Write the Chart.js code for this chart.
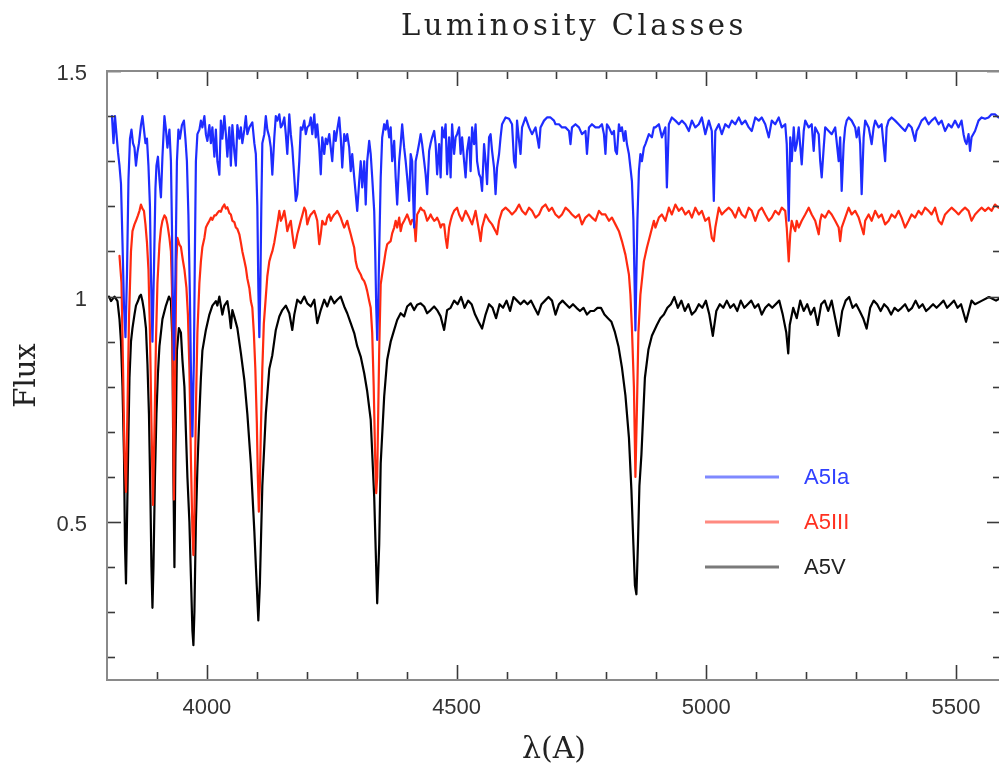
<!DOCTYPE html>
<html>
<head>
<meta charset="utf-8">
<script src="https://cdn.jsdelivr.net/npm/chart.js@4.4.1/dist/chart.umd.min.js"></script>
<style>
  html, body { margin: 0; padding: 0; background: #fff; overflow: hidden; }
  #wrap { position: absolute; left: 0; top: 0; width: 1004px; height: 769px; }
</style>
</head>
<body>
<div id="wrap"><canvas id="c"></canvas></div>
<script>
// ---------------- DATA ----------------
const chartTitle = 'Luminosity Classes';
const xAxisTitle = 'λ(A)';
const yAxisTitle = 'Flux';
const seriesNames = ['A5Ia', 'A5III', 'A5V'];
const xTickValues = [4000, 4500, 5000, 5500];
const yTickValues = [0.5, 1, 1.5];

// A5Ia (supergiant)
const iaWave = [3810,3813,3816,3819,3822,3825,3828,3831,3834,3837,3840,3843,3846,3849,3852,3855,3858,3861,3864,3868,3871,3874,3877,3880,3883,3886,3888,3891,3894,3897,3899,3902,3905,3908,3911,3915,3918,3921,3925,3928,3930,3932,3934,3937,3940,3943,3946,3950,3954,3957,3960,3963,3966,3968,3971,3974,3976,3978,3981,3985,3988,3991,3995,3998,4001,4005,4008,4011,4015,4018,4021,4025,4028,4031,4035,4038,4041,4045,4048,4051,4055,4058,4061,4065,4068,4071,4075,4078,4081,4085,4091,4095,4098,4101,4103,4105,4107,4109,4111,4115,4118,4121,4125,4128,4131,4135,4138,4141,4145,4148,4151,4155,4158,4161,4165,4168,4171,4175,4178,4181,4185,4188,4191,4195,4198,4201,4205,4208,4211,4215,4218,4221,4225,4228,4231,4235,4238,4241,4245,4248,4251,4255,4258,4261,4265,4268,4271,4275,4278,4281,4285,4288,4291,4295,4298,4301,4305,4308,4311,4315,4318,4321,4325,4328,4331,4335,4337,4339,4341,4343,4345,4348,4351,4355,4358,4361,4365,4368,4371,4375,4378,4381,4385,4388,4391,4395,4398,4401,4405,4408,4411,4413,4415,4418,4421,4425,4428,4431,4435,4438,4441,4445,4448,4451,4455,4458,4461,4465,4468,4471,4475,4478,4481,4485,4488,4491,4495,4498,4501,4505,4508,4511,4515,4518,4521,4525,4528,4531,4535,4538,4541,4545,4548,4551,4555,4558,4561,4565,4568,4571,4575,4578,4581,4585,4588,4591,4598,4605,4611,4615,4618,4621,4625,4628,4631,4638,4645,4651,4658,4665,4668,4675,4681,4688,4695,4698,4705,4711,4718,4725,4728,4731,4738,4745,4751,4758,4761,4765,4771,4778,4785,4791,4795,4798,4801,4805,4811,4815,4818,4821,4825,4828,4831,4835,4838,4841,4845,4848,4851,4854,4856,4858,4860,4862,4865,4868,4871,4875,4878,4885,4891,4895,4898,4905,4911,4918,4921,4925,4931,4938,4945,4951,4958,4965,4971,4978,4985,4991,4998,5005,5011,5015,5018,5025,5031,5038,5045,5051,5058,5065,5071,5078,5085,5091,5098,5105,5111,5118,5125,5131,5138,5145,5151,5158,5161,5165,5168,5171,5175,5178,5181,5185,5191,5195,5198,5205,5211,5215,5218,5225,5228,5231,5235,5238,5245,5251,5258,5265,5268,5271,5275,5278,5281,5285,5291,5298,5301,5305,5308,5311,5315,5318,5325,5331,5335,5338,5345,5351,5358,5361,5365,5371,5378,5385,5391,5398,5405,5411,5418,5421,5425,5431,5438,5445,5451,5458,5465,5471,5478,5485,5491,5498,5505,5511,5515,5518,5521,5525,5528,5531,5538,5545,5551,5558,5565,5571,5578,5585,5592];
const iaFlux = [1.40,1.34,1.40,1.36,1.32,1.29,1.25,1.12,0.98,0.91,1.05,1.26,1.35,1.37,1.34,1.33,1.29,1.32,1.34,1.38,1.40,1.37,1.34,1.35,1.29,1.20,1.05,0.90,1.06,1.24,1.29,1.31,1.26,1.22,1.31,1.40,1.37,1.33,1.37,1.30,1.16,0.98,0.86,1.05,1.30,1.37,1.35,1.38,1.39,1.35,1.30,1.18,1.00,0.84,0.69,0.86,1.10,1.30,1.36,1.37,1.39,1.375,1.40,1.36,1.345,1.38,1.34,1.375,1.31,1.37,1.30,1.27,1.39,1.35,1.40,1.36,1.31,1.375,1.29,1.38,1.32,1.29,1.38,1.35,1.375,1.34,1.37,1.40,1.36,1.375,1.386,1.34,1.316,1.20,1.02,0.91,1.02,1.20,1.34,1.36,1.40,1.37,1.353,1.33,1.27,1.353,1.40,1.39,1.404,1.375,1.38,1.397,1.36,1.316,1.404,1.36,1.33,1.264,1.212,1.227,1.30,1.375,1.37,1.39,1.36,1.375,1.38,1.397,1.36,1.404,1.353,1.382,1.33,1.271,1.353,1.316,1.35,1.338,1.36,1.33,1.30,1.367,1.345,1.37,1.397,1.353,1.286,1.36,1.345,1.36,1.33,1.278,1.316,1.264,1.227,1.19,1.256,1.30,1.242,1.30,1.204,1.30,1.345,1.316,1.264,1.19,1.10,0.98,0.904,0.98,1.10,1.264,1.353,1.382,1.37,1.39,1.353,1.375,1.30,1.345,1.264,1.204,1.30,1.338,1.382,1.33,1.30,1.264,1.212,1.316,1.30,1.22,1.153,1.30,1.316,1.34,1.36,1.338,1.30,1.271,1.227,1.323,1.34,1.353,1.367,1.338,1.271,1.338,1.264,1.375,1.353,1.382,1.271,1.353,1.264,1.382,1.316,1.353,1.36,1.375,1.316,1.353,1.30,1.264,1.323,1.353,1.278,1.375,1.338,1.382,1.30,1.271,1.264,1.234,1.338,1.30,1.249,1.353,1.36,1.323,1.286,1.227,1.286,1.316,1.353,1.382,1.397,1.394,1.382,1.30,1.286,1.39,1.345,1.316,1.375,1.397,1.375,1.36,1.375,1.33,1.375,1.39,1.397,1.397,1.39,1.382,1.382,1.375,1.375,1.367,1.338,1.375,1.382,1.375,1.36,1.367,1.316,1.375,1.382,1.375,1.375,1.382,1.36,1.316,1.382,1.375,1.36,1.367,1.323,1.316,1.382,1.367,1.375,1.345,1.367,1.338,1.316,1.286,1.256,1.17,1.05,0.925,1.05,1.17,1.278,1.316,1.30,1.33,1.338,1.36,1.353,1.375,1.375,1.382,1.353,1.375,1.242,1.382,1.397,1.39,1.382,1.39,1.382,1.367,1.39,1.375,1.382,1.397,1.36,1.39,1.367,1.212,1.367,1.382,1.36,1.382,1.375,1.39,1.382,1.397,1.382,1.39,1.375,1.367,1.397,1.39,1.397,1.382,1.353,1.39,1.382,1.397,1.375,1.382,1.338,1.168,1.353,1.30,1.375,1.323,1.338,1.375,1.293,1.367,1.39,1.375,1.382,1.323,1.375,1.36,1.30,1.264,1.33,1.375,1.367,1.36,1.375,1.30,1.353,1.234,1.338,1.375,1.39,1.397,1.39,1.375,1.353,1.375,1.338,1.227,1.353,1.39,1.375,1.338,1.375,1.39,1.375,1.382,1.30,1.375,1.39,1.397,1.39,1.382,1.375,1.367,1.382,1.375,1.345,1.367,1.375,1.39,1.397,1.382,1.39,1.397,1.382,1.39,1.367,1.382,1.375,1.39,1.375,1.39,1.36,1.345,1.338,1.36,1.323,1.353,1.367,1.39,1.397,1.394,1.397,1.404,1.404,1.397,1.40];

// A5III (giant)
const iiiWave = [3825,3829,3832,3835,3838,3841,3844,3848,3851,3855,3858,3862,3865,3868,3871,3874,3877,3880,3883,3886,3889,3892,3895,3898,3901,3905,3908,3911,3915,3918,3921,3925,3928,3930,3932,3934,3936,3939,3941,3945,3948,3952,3955,3959,3962,3965,3968,3971,3973,3975,3978,3981,3985,3988,3991,3995,3998,4001,4005,4008,4011,4015,4018,4021,4025,4028,4031,4035,4038,4041,4045,4048,4051,4055,4058,4061,4065,4068,4071,4075,4078,4081,4085,4088,4091,4094,4097,4100,4102,4104,4106,4108,4111,4114,4118,4121,4125,4128,4131,4135,4138,4141,4145,4148,4151,4155,4158,4161,4165,4168,4171,4175,4178,4181,4185,4188,4191,4195,4198,4201,4205,4208,4211,4215,4218,4221,4225,4228,4231,4235,4238,4241,4245,4248,4251,4255,4258,4261,4265,4268,4271,4275,4278,4281,4285,4288,4291,4295,4298,4301,4305,4308,4311,4315,4318,4321,4325,4328,4331,4334,4337,4339,4341,4343,4345,4348,4351,4355,4358,4361,4365,4368,4371,4375,4378,4381,4385,4388,4391,4395,4398,4401,4405,4408,4411,4415,4418,4421,4425,4428,4431,4435,4438,4441,4445,4448,4451,4455,4458,4461,4465,4468,4471,4475,4478,4481,4485,4488,4491,4495,4501,4505,4511,4518,4525,4531,4538,4545,4548,4551,4558,4565,4571,4578,4581,4585,4591,4598,4605,4611,4618,4625,4631,4638,4645,4651,4658,4665,4671,4678,4685,4691,4698,4705,4711,4718,4725,4731,4738,4745,4751,4758,4765,4771,4778,4785,4791,4798,4805,4811,4818,4825,4831,4838,4845,4848,4851,4855,4858,4861,4864,4868,4875,4881,4888,4895,4898,4905,4911,4918,4925,4931,4938,4945,4951,4958,4965,4971,4978,4985,4991,4998,5005,5011,5015,5018,5025,5031,5038,5045,5051,5058,5065,5071,5078,5085,5091,5098,5105,5111,5118,5125,5131,5138,5145,5151,5158,5161,5165,5168,5171,5175,5178,5181,5185,5191,5198,5205,5211,5218,5225,5228,5231,5238,5245,5251,5258,5265,5268,5271,5278,5285,5291,5298,5305,5311,5315,5318,5325,5331,5338,5345,5351,5358,5365,5371,5378,5385,5391,5398,5405,5411,5418,5425,5431,5438,5445,5451,5458,5465,5471,5478,5485,5491,5498,5505,5511,5518,5525,5531,5538,5545,5551,5558,5565,5571,5578,5585,5592];
const iiiFlux = [1.09,1.03,0.85,0.65,0.567,0.75,0.95,1.10,1.145,1.16,1.168,1.18,1.19,1.204,1.195,1.19,1.16,1.12,1.06,0.92,0.72,0.538,0.70,0.90,1.03,1.116,1.15,1.168,1.18,1.175,1.16,1.13,1.10,1.02,0.80,0.55,0.80,1.08,1.13,1.115,1.11,1.08,1.06,1.02,0.96,0.84,0.64,0.48,0.427,0.52,0.75,0.92,1.03,1.078,1.11,1.13,1.153,1.16,1.168,1.175,1.17,1.18,1.18,1.185,1.19,1.188,1.197,1.204,1.195,1.198,1.185,1.182,1.168,1.165,1.153,1.15,1.138,1.12,1.10,1.08,1.064,1.04,1.019,0.99,0.975,0.92,0.84,0.72,0.60,0.523,0.58,0.70,0.84,0.94,1.00,1.045,1.078,1.09,1.10,1.12,1.14,1.16,1.19,1.168,1.175,1.19,1.17,1.145,1.16,1.168,1.14,1.108,1.12,1.138,1.155,1.168,1.18,1.197,1.19,1.16,1.175,1.182,1.185,1.19,1.18,1.168,1.116,1.138,1.168,1.16,1.16,1.175,1.182,1.168,1.175,1.182,1.185,1.19,1.182,1.175,1.165,1.153,1.16,1.168,1.15,1.138,1.125,1.108,1.078,1.064,1.055,1.049,1.04,1.034,1.025,1.012,0.99,0.975,0.92,0.80,0.64,0.564,0.60,0.74,0.88,1.027,1.05,1.078,1.10,1.116,1.12,1.123,1.14,1.153,1.168,1.153,1.175,1.145,1.16,1.168,1.175,1.182,1.17,1.16,1.17,1.168,1.123,1.182,1.19,1.197,1.192,1.19,1.18,1.168,1.175,1.182,1.175,1.168,1.17,1.175,1.165,1.153,1.16,1.16,1.13,1.108,1.153,1.168,1.18,1.19,1.197,1.182,1.168,1.19,1.175,1.16,1.19,1.145,1.123,1.153,1.182,1.168,1.16,1.145,1.138,1.168,1.19,1.197,1.19,1.182,1.19,1.204,1.19,1.182,1.197,1.19,1.175,1.182,1.197,1.204,1.19,1.197,1.182,1.175,1.182,1.197,1.19,1.182,1.175,1.182,1.16,1.175,1.182,1.175,1.168,1.19,1.182,1.182,1.168,1.175,1.16,1.145,1.123,1.093,1.049,1.004,0.93,0.80,0.60,0.75,0.92,1.004,1.078,1.108,1.138,1.168,1.153,1.175,1.182,1.168,1.197,1.182,1.204,1.19,1.197,1.182,1.19,1.175,1.197,1.182,1.19,1.168,1.175,1.13,1.123,1.153,1.197,1.182,1.19,1.197,1.19,1.175,1.197,1.182,1.175,1.197,1.19,1.168,1.19,1.197,1.182,1.168,1.175,1.19,1.182,1.197,1.19,1.153,1.078,1.138,1.168,1.153,1.145,1.168,1.153,1.168,1.182,1.197,1.182,1.168,1.138,1.168,1.182,1.175,1.19,1.182,1.168,1.153,1.123,1.153,1.175,1.197,1.182,1.19,1.175,1.153,1.138,1.168,1.182,1.168,1.19,1.175,1.182,1.16,1.168,1.182,1.175,1.19,1.175,1.153,1.168,1.182,1.175,1.19,1.182,1.197,1.19,1.182,1.197,1.168,1.16,1.182,1.19,1.197,1.19,1.182,1.19,1.197,1.19,1.168,1.182,1.19,1.197,1.19,1.197,1.19,1.204,1.197,1.20];

// A5V (dwarf)
const vWave = [3804,3808,3815,3821,3825,3828,3831,3834,3836,3838,3840,3843,3845,3848,3851,3855,3858,3862,3865,3868,3871,3874,3878,3881,3884,3887,3889,3891,3893,3896,3899,3902,3905,3911,3918,3924,3928,3931,3933,3935,3937,3940,3944,3948,3951,3955,3958,3961,3965,3968,3971,3973,3975,3978,3981,3985,3988,3991,3998,4005,4011,4018,4021,4025,4031,4035,4041,4045,4048,4051,4055,4061,4068,4075,4081,4088,4095,4099,4103,4106,4111,4118,4125,4131,4138,4145,4151,4158,4165,4171,4175,4181,4188,4195,4201,4208,4215,4221,4228,4235,4241,4248,4255,4261,4268,4275,4281,4288,4295,4301,4308,4315,4321,4328,4335,4341,4345,4348,4355,4361,4368,4375,4381,4388,4395,4401,4408,4415,4421,4428,4435,4441,4448,4455,4461,4468,4475,4481,4488,4495,4502,4509,4516,4523,4530,4537,4544,4551,4558,4565,4572,4579,4586,4593,4600,4607,4614,4621,4628,4635,4642,4649,4656,4663,4670,4677,4684,4691,4698,4705,4712,4719,4726,4733,4740,4747,4754,4761,4768,4775,4782,4789,4796,4803,4810,4817,4824,4831,4838,4845,4850,4854,4857,4860,4863,4866,4870,4877,4884,4891,4901,4908,4915,4922,4929,4936,4943,4950,4957,4964,4971,4978,4985,4992,4999,5006,5013,5020,5027,5034,5041,5048,5055,5062,5069,5076,5083,5090,5097,5104,5111,5118,5125,5132,5146,5153,5160,5164,5167,5174,5181,5188,5195,5202,5209,5216,5223,5230,5237,5244,5251,5258,5265,5272,5279,5286,5293,5300,5307,5314,5321,5328,5335,5342,5349,5356,5363,5370,5377,5384,5391,5398,5405,5412,5419,5426,5433,5440,5447,5454,5461,5468,5475,5482,5489,5496,5503,5510,5520,5531,5538,5552,5566,5580,5592];
const vFlux = [1.00,0.99,1.00,0.99,0.95,0.90,0.80,0.65,0.45,0.364,0.50,0.70,0.82,0.90,0.93,0.96,0.98,0.99,1.00,1.004,0.99,0.97,0.93,0.85,0.74,0.55,0.40,0.31,0.40,0.60,0.74,0.83,0.89,0.95,0.98,1.00,0.99,0.90,0.60,0.40,0.65,0.88,0.93,0.92,0.86,0.80,0.70,0.60,0.50,0.38,0.26,0.227,0.30,0.50,0.62,0.74,0.82,0.88,0.926,0.96,0.98,0.99,0.98,1.00,0.96,0.98,0.99,0.96,0.93,0.97,0.955,0.93,0.875,0.815,0.74,0.63,0.48,0.38,0.282,0.36,0.58,0.74,0.84,0.87,0.926,0.956,0.97,0.98,0.963,0.926,0.96,0.993,0.985,1.00,0.985,0.978,0.993,0.941,0.97,0.993,0.978,1.00,0.985,0.993,1.00,0.978,0.963,0.941,0.919,0.89,0.867,0.83,0.79,0.727,0.556,0.32,0.45,0.63,0.779,0.86,0.90,0.926,0.948,0.963,0.956,0.978,0.985,0.97,0.982,0.985,0.978,0.963,0.97,0.978,0.97,0.956,0.926,0.97,0.975,0.991,0.983,0.999,0.975,0.991,0.983,0.96,0.944,0.929,0.96,0.983,0.975,0.952,0.983,0.975,0.991,0.968,0.999,0.991,0.983,0.991,0.983,0.991,0.975,0.96,0.983,0.991,0.999,0.991,0.96,0.983,0.991,0.983,0.975,0.983,0.975,0.968,0.975,0.96,0.968,0.968,0.975,0.975,0.96,0.952,0.944,0.921,0.89,0.843,0.781,0.688,0.571,0.45,0.36,0.34,0.45,0.58,0.649,0.82,0.882,0.913,0.937,0.952,0.96,0.975,0.983,0.999,0.975,0.991,0.968,0.983,0.96,0.968,0.983,0.975,0.991,0.96,0.913,0.968,0.983,0.975,0.991,0.975,0.983,0.968,0.991,0.975,0.983,0.991,0.975,0.983,0.96,0.975,0.983,0.975,0.991,0.96,0.921,0.874,0.937,0.975,0.952,0.991,0.968,0.983,0.96,0.975,0.937,0.983,0.991,0.968,0.991,0.952,0.913,0.968,0.991,0.999,0.975,0.983,0.968,0.952,0.929,0.975,0.991,0.983,0.968,0.983,0.975,0.96,0.975,0.968,0.975,0.983,0.968,0.975,0.991,0.975,0.983,0.968,0.975,0.983,0.975,0.983,0.991,0.975,0.983,0.991,0.975,0.983,0.944,0.991,0.983,0.991,0.999,0.991,0.999];

// ---------------- STYLE ----------------
const lineColors = ['#1e2cff', '#ff2a10', '#000000'];
const legendLineColors = ['#7f89ff', '#ff8a80', '#7a7a7a'];
const legendTextColors = ['#3040ff', '#ff3020', '#222222'];

function toPoints(w, f) { return w.map((x, i) => ({ x: x, y: f[i] })); }

const xMinor = [];
for (let v = 3900; v <= 5500; v += 100) xMinor.push(v);
const yMinor = [];
for (let k = 2; k <= 15; k++) yMinor.push(k / 10);

function line(ctx, x1, y1, x2, y2) { ctx.beginPath(); ctx.moveTo(x1, y1); ctx.lineTo(x2, y2); ctx.stroke(); }

const decorPlugin = {
  id: 'decor',
  afterDatasetsDraw(chart) {
    const { ctx, chartArea: a, scales: { x, y } } = chart;
    ctx.save();
    // inward ticks on all four sides
    ctx.strokeStyle = '#3a3a3a';
    ctx.lineWidth = 1.6;
    xMinor.forEach(v => {
      const px = Math.round(x.getPixelForValue(v)) + 0.5;
      const len = xTickValues.includes(v) ? 15 : 8;
      line(ctx, px, a.bottom, px, a.bottom - len);
      line(ctx, px, a.top, px, a.top + len);
    });
    yMinor.forEach(v => {
      const py = Math.round(y.getPixelForValue(v)) + 0.5;
      const major = yTickValues.some(t => Math.abs(t - v) < 1e-6);
      const len = major ? 14 : 8;
      line(ctx, a.left, py, a.left + len, py);
      line(ctx, a.right, py, a.right - len, py);
    });
    // frame
    ctx.strokeStyle = '#8a8a8a';
    ctx.lineWidth = 2;
    ctx.strokeRect(a.left, a.top, a.right - a.left, a.bottom - a.top);

    // legend (inside the plot)
    const legendY = [477, 522, 567];
    ctx.font = '22px "Liberation Sans", Arial, sans-serif';
    ctx.textBaseline = 'middle';
    ctx.textAlign = 'left';
    seriesNames.forEach((name, i) => {
      ctx.strokeStyle = legendLineColors[i];
      ctx.lineWidth = 3;
      line(ctx, 705, legendY[i], 779, legendY[i]);
      ctx.fillStyle = legendTextColors[i];
      ctx.fillText(name, 804, legendY[i] + 1);
    });

    // title
    ctx.font = '29px "DejaVu Serif", serif';
    ctx.fillStyle = '#222';
    ctx.textAlign = 'left';
    ctx.textBaseline = 'middle';
    try { ctx.letterSpacing = '3.5px'; } catch (e) {}
    const tw = ctx.measureText(chartTitle).width;
    ctx.fillText(chartTitle, 574 - tw / 2, 27);
    try { ctx.letterSpacing = '0px'; } catch (e) {}
    ctx.restore();
  }
};

new Chart(document.getElementById('c'), {
  type: 'line',
  data: {
    datasets: [
      { label: seriesNames[0], data: toPoints(iaWave, iaFlux), borderColor: lineColors[0] },
      { label: seriesNames[1], data: toPoints(iiiWave, iiiFlux), borderColor: lineColors[1] },
      { label: seriesNames[2], data: toPoints(vWave, vFlux), borderColor: lineColors[2] }
    ]
  },
  options: {
    responsive: true,
    maintainAspectRatio: false,
    animation: false,
    devicePixelRatio: 1,
    layout: { padding: { top: 71, right: 3, left: 0, bottom: 0 } },
    elements: {
      point: { radius: 0 },
      line: { borderWidth: 2.2, tension: 0, borderJoinStyle: 'round', borderCapStyle: 'round' }
    },
    plugins: { legend: { display: false }, tooltip: { enabled: false }, title: { display: false } },
    scales: {
      x: {
        type: 'linear',
        min: 3800,
        max: 5590,
        grid: { display: false, drawTicks: false },
        border: { display: false },
        afterBuildTicks: s => { s.ticks = xTickValues.map(v => ({ value: v })); },
        afterFit: s => { s.height = 89; },
        ticks: {
          padding: 15,
          color: '#333',
          maxRotation: 0,
          font: { family: '"Liberation Sans", Arial, sans-serif', size: 22 },
          callback: v => String(v)
        },
        title: {
          display: true,
          text: xAxisTitle,
          color: '#222',
          font: { family: '"DejaVu Serif", serif', size: 30 },
          padding: { top: 0, bottom: 1 }
        }
      },
      y: {
        type: 'linear',
        min: 0.15,
        max: 1.5,
        grid: { display: false, drawTicks: false },
        border: { display: false },
        afterBuildTicks: s => { s.ticks = yTickValues.map(v => ({ value: v })); },
        afterFit: s => { s.width = 107; },
        ticks: {
          padding: 20,
          labelOffset: 3,
          color: '#333',
          font: { family: '"Liberation Sans", Arial, sans-serif', size: 22 },
          callback: v => String(v)
        },
        title: {
          display: true,
          text: yAxisTitle,
          color: '#222',
          font: { family: '"DejaVu Serif", serif', size: 29 },
          padding: { top: 10, bottom: 0 }
        }
      }
    }
  },
  plugins: [decorPlugin]
});
</script>
</body>
</html>
